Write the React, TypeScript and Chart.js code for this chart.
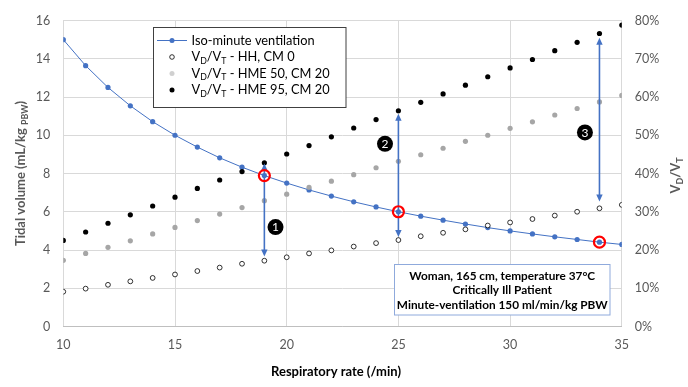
import React, { useEffect, useRef } from "react";
import { Chart, registerables } from "chart.js";

Chart.register(...registerables);

// ---------- data ----------
const respiratoryRate = [10, 11, 12, 13, 14, 15, 16, 17, 18, 19, 20, 21, 22, 23, 24, 25, 26, 27, 28, 29, 30, 31, 32, 33, 34, 35];
// Tidal volume (mL/kg PBW), left axis
const isoMinuteVentilation = [15.0, 13.64, 12.5, 11.54, 10.71, 10.0, 9.38, 8.82, 8.33, 7.89, 7.5, 7.14, 6.82, 6.52, 6.25, 6.0, 5.77, 5.56, 5.36, 5.17, 5.0, 4.84, 4.69, 4.55, 4.41, 4.29];
// VD/VT (%), right axis
const vdvtHhCm0 = [9.1, 9.9, 10.9, 11.8, 12.7, 13.6, 14.5, 15.4, 16.4, 17.2, 18.1, 19.1, 19.9, 20.9, 21.8, 22.6, 23.6, 24.5, 25.4, 26.4, 27.2, 28.1, 29.0, 30.0, 30.9, 31.8];
const vdvtHme50Cm20 = [17.3, 19.1, 20.7, 22.4, 24.2, 25.9, 27.7, 29.4, 31.1, 32.9, 34.6, 36.4, 38.0, 39.7, 41.5, 43.2, 44.9, 46.6, 48.4, 50.0, 51.8, 53.5, 55.3, 57.0, 58.7, 60.4];
const vdvtHme95Cm20 = [22.5, 24.7, 27.0, 29.2, 31.5, 33.8, 36.1, 38.3, 40.5, 42.8, 45.1, 47.3, 49.6, 51.9, 54.1, 56.4, 58.6, 60.8, 63.1, 65.3, 67.6, 69.8, 72.1, 74.3, 76.6, 78.8];

// highlighted respiratory rates (red circles + double arrows)
const markerRates = [19, 25, 34];
const arrowLowPct = [18.3, 23.4, 32.7];
const arrowHighPct = [42.6, 55.6, 75.5];
// numbered labels (x, left-axis y)
const labelNumbers = ["1", "2", "3"];
const labelX = [19.5, 24.4, 33.35];
const labelY = [5.2, 9.55, 10.15];

const xTicks = { min: 10, max: 35, step: 5 };
const yLeftTicks = { min: 0, max: 16, step: 2 };
const yRightTicks = { min: 0, max: 80, step: 10 };

const seriesNames = ["Iso-minute ventilation", "HH, CM 0", "HME 50, CM 20", "HME 95, CM 20"];
const noteLines = ["Woman, 165 cm, temperature 37°C", "Critically Ill Patient", "Minute-ventilation 150 ml/min/kg PBW"];

// ---------- styling ----------
const FONT = "Lato, 'Liberation Sans', sans-serif";
const BLUE = "#4472C4";
const GRAY_PT = "#A6A6A6";
const TXT = "#595959";

type Part = { t: string; sub?: boolean };

function partFont(p: Part, size: number, weight: string) {
  return `${weight} ${p.sub ? size * 0.68 : size}px ${FONT}`;
}
function richWidth(ctx: CanvasRenderingContext2D, parts: Part[], size: number, weight: string) {
  let w = 0;
  for (const p of parts) {
    ctx.font = partFont(p, size, weight);
    w += ctx.measureText(p.t).width;
  }
  return w;
}
function drawRich(ctx: CanvasRenderingContext2D, parts: Part[], x: number, y: number, size: number, weight: string, color: string) {
  ctx.textBaseline = "middle";
  ctx.textAlign = "left";
  ctx.fillStyle = color;
  let cx = x;
  for (const p of parts) {
    ctx.font = partFont(p, size, weight);
    ctx.fillText(p.t, cx, p.sub ? y + size * 0.32 : y);
    cx += ctx.measureText(p.t).width;
  }
}
const vdvt = (suffix: string): Part[] => [
  { t: "V" }, { t: "D", sub: true }, { t: "/V" }, { t: "T", sub: true }, { t: suffix },
];

function arrowHead(ctx: CanvasRenderingContext2D, x: number, y: number, dir: number) {
  // dir = -1 points up, +1 points down
  ctx.beginPath();
  ctx.moveTo(x, y);
  ctx.lineTo(x - 3.2, y - dir * 7);
  ctx.lineTo(x + 3.2, y - dir * 7);
  ctx.closePath();
  ctx.fill();
}

const overlayPlugin = {
  id: "overlay",
  afterDraw(chart: any) {
    const ctx: CanvasRenderingContext2D = chart.ctx;
    const xs = chart.scales.x;
    const yl = chart.scales.y;
    const yr = chart.scales.y2;
    const area = chart.chartArea;
    ctx.save();

    // arrows
    ctx.strokeStyle = BLUE;
    ctx.fillStyle = BLUE;
    ctx.lineWidth = 1.6;
    markerRates.forEach((r, i) => {
      const px = xs.getPixelForValue(r);
      const y1 = yr.getPixelForValue(arrowHighPct[i]);
      const y2 = yr.getPixelForValue(arrowLowPct[i]);
      ctx.beginPath();
      ctx.moveTo(px, y1 + 5);
      ctx.lineTo(px, y2 - 5);
      ctx.stroke();
      arrowHead(ctx, px, y1, -1);
      arrowHead(ctx, px, y2, 1);
    });

    // red circles on the iso-minute curve
    ctx.strokeStyle = "#FF0000";
    ctx.lineWidth = 2.2;
    markerRates.forEach((r) => {
      const idx = respiratoryRate.indexOf(r);
      const px = xs.getPixelForValue(r);
      const py = yl.getPixelForValue(isoMinuteVentilation[idx]);
      ctx.beginPath();
      ctx.arc(px, py, 5.5, 0, Math.PI * 2);
      ctx.stroke();
    });

    // numbered black badges
    labelNumbers.forEach((n, i) => {
      const px = xs.getPixelForValue(labelX[i]);
      const py = yl.getPixelForValue(labelY[i]);
      ctx.fillStyle = "#000";
      ctx.beginPath();
      ctx.arc(px, py, 8, 0, Math.PI * 2);
      ctx.fill();
      ctx.fillStyle = "#fff";
      ctx.font = `12px ${FONT}`;
      ctx.textAlign = "center";
      ctx.textBaseline = "middle";
      ctx.fillText(n, px, py + 0.5);
    });

    // legend box
    const lx = 153.5, ly = 27.5, lw = 192.5, lh = 80;
    ctx.fillStyle = "#fff";
    ctx.fillRect(lx, ly, lw, lh);
    ctx.strokeStyle = "#404040";
    ctx.lineWidth = 1;
    ctx.strokeRect(lx, ly, lw, lh);
    const rowY = [40.5, 57, 73.5, 90];
    const mx = 172;
    const tx = 191.5;
    const lsz = 12.8;
    // row 0: line with marker
    ctx.strokeStyle = BLUE;
    ctx.lineWidth = 1;
    ctx.beginPath();
    ctx.moveTo(157, rowY[0]);
    ctx.lineTo(187, rowY[0]);
    ctx.stroke();
    ctx.fillStyle = BLUE;
    ctx.beginPath();
    ctx.arc(mx, rowY[0], 2.5, 0, Math.PI * 2);
    ctx.fill();
    drawRich(ctx, [{ t: seriesNames[0] }], tx, rowY[0], lsz, "normal", "#000");
    // row 1: hollow
    ctx.fillStyle = "#fff";
    ctx.strokeStyle = "#000";
    ctx.lineWidth = 0.8;
    ctx.beginPath();
    ctx.arc(mx, rowY[1], 2.3, 0, Math.PI * 2);
    ctx.fill();
    ctx.stroke();
    drawRich(ctx, vdvt(" - " + seriesNames[1]), tx, rowY[1], lsz, "normal", "#000");
    // row 2: gray
    ctx.fillStyle = "#D0D0D0";
    ctx.beginPath();
    ctx.arc(mx, rowY[2], 2.5, 0, Math.PI * 2);
    ctx.fill();
    drawRich(ctx, vdvt(" - " + seriesNames[2]), tx, rowY[2], lsz, "normal", "#000");
    // row 3: black
    ctx.fillStyle = "#000";
    ctx.beginPath();
    ctx.arc(mx, rowY[3], 2.5, 0, Math.PI * 2);
    ctx.fill();
    drawRich(ctx, vdvt(" - " + seriesNames[3]), tx, rowY[3], lsz, "normal", "#000");

    // note box
    const bx = 394.5, by = 264.5, bw = 215.5, bh = 50.5;
    ctx.fillStyle = "#fff";
    ctx.fillRect(bx, by, bw, bh);
    ctx.strokeStyle = "#8FAADC";
    ctx.lineWidth = 1;
    ctx.strokeRect(bx, by, bw, bh);
    ctx.fillStyle = "#000";
    ctx.font = `bold 11.8px ${FONT}`;
    ctx.textAlign = "center";
    ctx.textBaseline = "middle";
    const noteY = [276, 290.5, 305];
    noteLines.forEach((t, i) => ctx.fillText(t, bx + bw / 2, noteY[i]));

    // axis titles
    const cy = (area.top + area.bottom) / 2;
    // left
    const leftParts: Part[] = [{ t: "Tidal volume (mL/kg " }, { t: "PBW", sub: true }, { t: ")" }];
    ctx.save();
    ctx.translate(21, cy);
    ctx.rotate(-Math.PI / 2);
    const lw2 = richWidth(ctx, leftParts, 13, "bold");
    drawRich(ctx, leftParts, -lw2 / 2, 0, 13, "bold", TXT);
    ctx.restore();
    // right
    const rightParts = vdvt("");
    ctx.save();
    ctx.translate(676, cy + 2);
    ctx.rotate(-Math.PI / 2);
    const rw = richWidth(ctx, rightParts, 13, "bold");
    drawRich(ctx, rightParts, -rw / 2, 0, 13, "bold", TXT);
    ctx.restore();
    // bottom
    ctx.fillStyle = "#000";
    ctx.font = `bold 13px ${FONT}`;
    ctx.textAlign = "center";
    ctx.textBaseline = "middle";
    ctx.fillText("Respiratory rate (/min)", 336, 372);

    ctx.restore();
  },
};

export default function App() {
  const ref = useRef<HTMLCanvasElement | null>(null);

  useEffect(() => {
    document.body.style.margin = "0";
    const canvas = ref.current;
    if (!canvas) return;
    const pts = (arr: number[]) => respiratoryRate.map((x, i) => ({ x, y: arr[i] }));
    const tickFont = { family: FONT, size: 12.5 };

    const chart = new Chart(canvas, {
      type: "scatter",
      data: {
        datasets: [
          {
            label: seriesNames[0],
            data: pts(isoMinuteVentilation),
            yAxisID: "y",
            showLine: true,
            borderColor: BLUE,
            backgroundColor: BLUE,
            borderWidth: 1,
            pointRadius: 2.6,
            pointBorderWidth: 0,
            pointBackgroundColor: BLUE,
            order: 4,
          },
          {
            label: seriesNames[1],
            data: pts(vdvtHhCm0),
            yAxisID: "y2",
            pointRadius: 2.4,
            pointBackgroundColor: "#fff",
            pointBorderColor: "#000",
            pointBorderWidth: 0.8,
            order: 3,
          },
          {
            label: seriesNames[2],
            data: pts(vdvtHme50Cm20),
            yAxisID: "y2",
            pointRadius: 2.6,
            pointBackgroundColor: GRAY_PT,
            pointBorderWidth: 0,
            order: 2,
          },
          {
            label: seriesNames[3],
            data: pts(vdvtHme95Cm20),
            yAxisID: "y2",
            pointRadius: 2.6,
            pointBackgroundColor: "#000",
            pointBorderWidth: 0,
            order: 1,
          },
        ],
      },
      options: {
        animation: false,
        responsive: false,
        maintainAspectRatio: false,
        layout: { padding: { top: 19, left: 0, right: 0, bottom: 0 } },
        plugins: { legend: { display: false }, tooltip: { enabled: false } },
        scales: {
          x: {
            type: "linear",
            min: xTicks.min,
            max: xTicks.max,
            ticks: { stepSize: xTicks.step, color: TXT, font: tickFont, padding: 11 },
            grid: { color: "#D9D9D9", drawTicks: false },
            border: { color: "#BFBFBF" },
            afterFit: (s: any) => {
              s.height = 60.5;
            },
          },
          y: {
            position: "left",
            min: yLeftTicks.min,
            max: yLeftTicks.max,
            ticks: { stepSize: yLeftTicks.step, color: TXT, font: tickFont, padding: 13 },
            grid: { color: "#D9D9D9", drawTicks: false },
            border: { display: false },
            afterFit: (s: any) => {
              s.width = 63.3;
            },
          },
          y2: {
            position: "right",
            min: yRightTicks.min,
            max: yRightTicks.max,
            ticks: {
              stepSize: yRightTicks.step,
              color: TXT,
              font: tickFont,
              padding: 13,
              callback: (v: any) => `${v}%`,
            },
            grid: { display: false, drawTicks: false },
            border: { display: false },
            afterFit: (s: any) => {
              s.width = 66.2;
            },
          },
        },
      },
      plugins: [overlayPlugin],
    } as any);
    return () => chart.destroy();
  }, []);

  return (
    <div style={{ width: 688, height: 387, background: "#fff" }}>
      <canvas ref={ref} width={688} height={387} style={{ display: "block" }} />
    </div>
  );
}
